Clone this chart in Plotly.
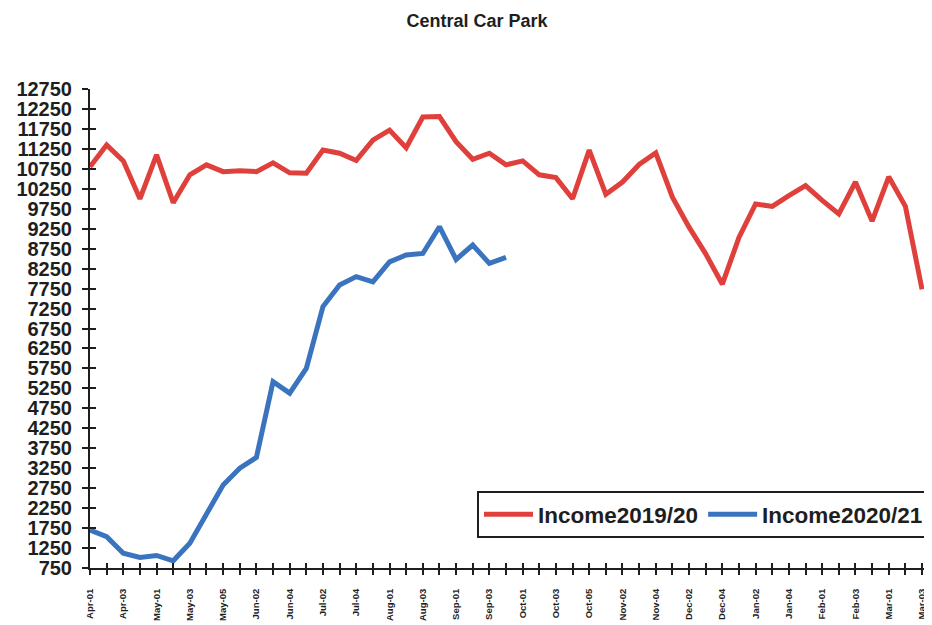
import plotly.graph_objects as go

# Week labels (April 2019 .. March, week-of-month)
weeks = [
    "Apr-01", "Apr-02", "Apr-03", "Apr-04",
    "May-01", "May-02", "May-03", "May-04", "May-05",
    "Jun-01", "Jun-02", "Jun-03", "Jun-04",
    "Jul-01", "Jul-02", "Jul-03", "Jul-04", "Jul-05",
    "Aug-01", "Aug-02", "Aug-03", "Aug-04",
    "Sep-01", "Sep-02", "Sep-03", "Sep-04",
    "Oct-01", "Oct-02", "Oct-03", "Oct-04", "Oct-05",
    "Nov-01", "Nov-02", "Nov-03", "Nov-04",
    "Dec-01", "Dec-02", "Dec-03", "Dec-04",
    "Jan-01", "Jan-02", "Jan-03", "Jan-04", "Jan-05",
    "Feb-01", "Feb-02", "Feb-03", "Feb-04",
    "Mar-01", "Mar-02", "Mar-03",
]

income_2019_20 = [
    10800, 11350, 10950, 10000, 11100, 9900, 10600, 10850, 10680, 10700,
    10680, 10900, 10650, 10640, 11220, 11140, 10960, 11470, 11720, 11280,
    12050, 12060, 11430, 10990, 11140, 10850, 10950, 10600, 10530, 10000,
    11220, 10110, 10420, 10860, 11150, 10040, 9290, 8620, 7860, 9030,
    9870, 9810, 10080, 10330, 9960, 9620, 10420, 9440, 10550, 9810,
    7730,
]

income_2020_21 = [
    1700, 1535, 1120, 1015, 1065, 930, 1370, 2080, 2830, 3250,
    3520, 5420, 5130, 5750, 7300, 7840, 8050, 7920, 8420, 8590,
    8630, 9300, 8480, 8840, 8380, 8530,
]

y_min, y_max, y_step = 750, 12750, 500

FONT = "Liberation Sans"
INK = "#1e1e1e"
RED = "#E0403B"
BLUE = "#3B74BE"

# the page body has an 8px margin, so the figure is sized to the visible area
W, H = 924, 617
ML, MT, MR, MB = 82, 81, 0, 57
plot_w = W - ML - MR
plot_h = H - MT - MB

x_red = list(range(len(income_2019_20)))
x_blue = list(range(len(income_2020_21)))
tick_idx = list(range(len(weeks)))
tick_txt = [w if i % 2 == 0 else "" for i, w in enumerate(weeks)]
x_range = [0, len(weeks) - 0.4]

fig = go.Figure()
fig.add_trace(go.Scatter(
    x=x_red, y=income_2019_20, mode="lines", name="Income2019/20",
    line=dict(color=RED, width=5),
))
fig.add_trace(go.Scatter(
    x=x_blue, y=income_2020_21, mode="lines", name="Income2020/21",
    line=dict(color=BLUE, width=5),
))
# empty trace to register the overlay axes (inner half of the cross ticks)
fig.add_trace(go.Scatter(x=[], y=[], xaxis="x2", yaxis="y2",
                         showlegend=False, hoverinfo="skip"))

axis_common = dict(showgrid=False, zeroline=False, automargin=False)

fig.update_layout(
    width=W, height=H,
    margin=dict(l=ML, r=MR, t=MT, b=MB),
    paper_bgcolor="white", plot_bgcolor="white",
    title=dict(
        text="Central Car Park", xref="container", yref="container",
        x=469 / W, xanchor="center", y=1 - 13 / H, yanchor="middle",
        font=dict(family=FONT, size=18, color=INK, weight="bold"),
    ),
    xaxis=dict(
        **axis_common, range=x_range, tickmode="array",
        tickvals=tick_idx, ticktext=tick_txt, tickangle=-90,
        showline=True, linecolor=INK, linewidth=2,
        ticks="outside", ticklen=5, tickwidth=2, tickcolor=INK,
        ticklabelstandoff=10,
        tickfont=dict(family=FONT, size=9.5, color=INK, weight="bold"),
    ),
    yaxis=dict(
        **axis_common, range=[y_min, y_max], tick0=y_min, dtick=y_step,
        tickformat="d",
        showline=True, linecolor=INK, linewidth=2,
        ticks="outside", ticklen=6, tickwidth=2, tickcolor=INK,
        ticklabelstandoff=6,
        tickfont=dict(family=FONT, size=20, color=INK, weight="bold"),
    ),
    xaxis2=dict(
        **axis_common, overlaying="x", anchor="y", range=x_range,
        tickmode="array", tickvals=tick_idx, showticklabels=False,
        showline=False, ticks="inside", ticklen=5, tickwidth=2, tickcolor=INK,
    ),
    yaxis2=dict(
        **axis_common, overlaying="y", anchor="x", side="left",
        range=[y_min, y_max], tick0=y_min, dtick=y_step, showticklabels=False,
        showline=False, ticks="inside", ticklen=6, tickwidth=2, tickcolor=INK,
    ),
    legend=dict(
        orientation="h", x=(477 - 90) / plot_w, y=(568 - 491) / plot_h,
        xanchor="left", yanchor="top",
        bgcolor="white", bordercolor=INK, borderwidth=2,
        font=dict(family=FONT, size=22.5, color=INK, weight="bold"),
        itemwidth=49, tracegroupgap=0,
    ),
    showlegend=True,
)

fig.write_html("out.html")
